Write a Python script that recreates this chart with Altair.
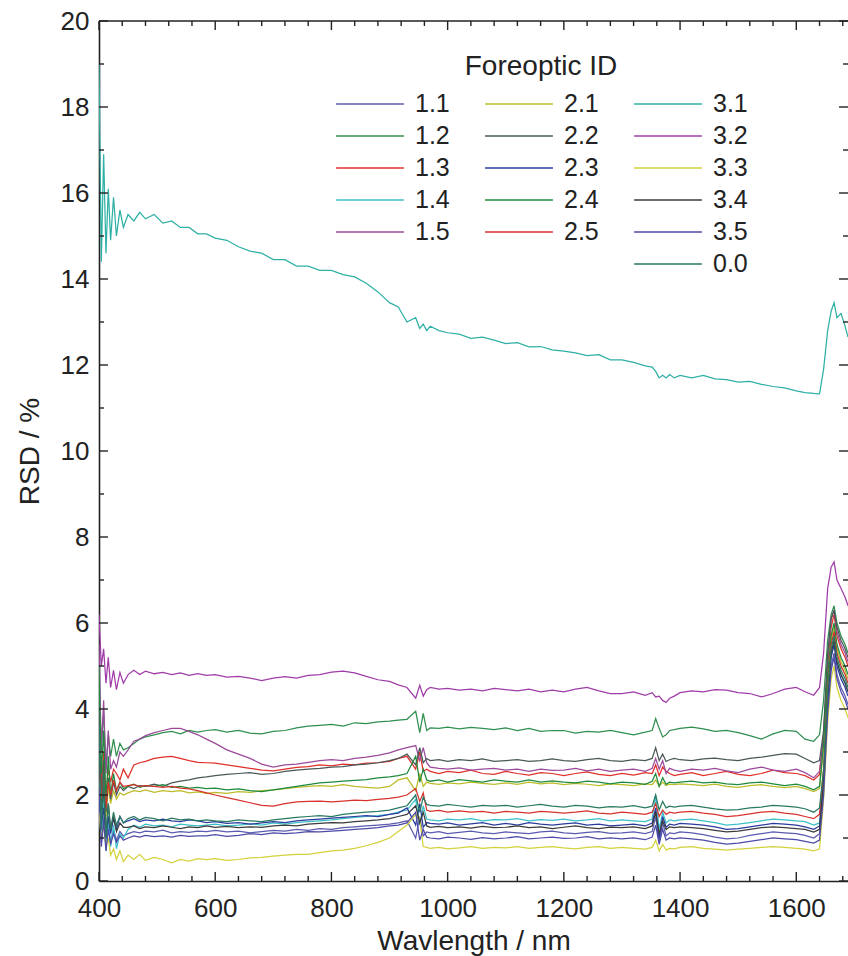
import altair as alt
import pandas as pd

# Wavelength sample points (nm)
wavelength = [400, 404, 408, 412, 416, 420, 425, 430, 436, 442,
              450, 460, 470, 480, 495, 510, 525, 540, 555, 570,
              585, 600, 620, 640, 660, 680, 700, 720, 740, 760,
              780, 800, 820, 840, 860, 880, 900, 915, 930, 945,
              952, 958, 964, 970, 985, 1000, 1020, 1040, 1060, 1080,
              1100, 1120, 1140, 1160, 1180, 1200, 1220, 1240, 1260, 1280,
              1300, 1320, 1340, 1352, 1358, 1364, 1370, 1376, 1382, 1390,
              1400, 1420, 1440, 1460, 1480, 1500, 1520, 1540, 1560, 1580,
              1600, 1615, 1630, 1640, 1647, 1654, 1660, 1665, 1670, 1677,
              1684, 1689]

rsd_3_1 = [19.0, 14.4, 16.9, 14.6, 16.1, 14.9, 15.9, 15.0, 15.6, 15.2,
           15.5, 15.35, 15.55, 15.4, 15.5, 15.3, 15.35, 15.2, 15.2, 15.05,
           15.05, 14.95, 14.9, 14.75, 14.65, 14.6, 14.45, 14.45, 14.3, 14.3,
           14.2, 14.2, 14.1, 14.05, 13.9, 13.7, 13.45, 13.35, 13.0, 13.1,
           12.85, 12.95, 12.8, 12.9, 12.8, 12.75, 12.72, 12.62, 12.65, 12.58,
           12.5, 12.52, 12.42, 12.43, 12.35, 12.32, 12.28, 12.22, 12.24, 12.12,
           12.12, 12.06, 11.98, 11.95, 11.85, 11.7, 11.76, 11.7, 11.78, 11.7,
           11.76, 11.7, 11.76, 11.68, 11.66, 11.6, 11.62, 11.55, 11.5, 11.47,
           11.4, 11.36, 11.34, 11.33, 11.9, 12.8, 13.25, 13.45, 13.1, 13.2,
           12.9, 12.65]
rsd_3_2 = [6.2, 5.0, 5.4, 4.6, 5.2, 4.5, 4.9, 4.45, 4.85, 4.6,
           4.8, 4.9, 4.8, 4.88, 4.82, 4.85, 4.8, 4.84, 4.78, 4.82,
           4.78, 4.8, 4.74, 4.76, 4.72, 4.66, 4.72, 4.75, 4.72, 4.78,
           4.8, 4.86, 4.88, 4.84, 4.76, 4.68, 4.64, 4.56, 4.5, 4.25,
           4.55, 4.3, 4.45, 4.5, 4.46, 4.48, 4.44, 4.46, 4.42, 4.48,
           4.45, 4.42, 4.46, 4.4, 4.44, 4.4, 4.46, 4.5, 4.42, 4.36,
           4.36, 4.4, 4.32, 4.38, 4.28, 4.3, 4.2, 4.15, 4.25, 4.3,
           4.38, 4.42, 4.4, 4.45, 4.44, 4.38, 4.36, 4.28, 4.36, 4.46,
           4.5, 4.4, 4.32, 4.5, 5.3, 6.8, 7.3, 7.42, 7.0, 6.8,
           6.6, 6.4]
rsd_1_2 = [4.5, 3.2, 3.9, 2.6, 3.4, 2.9, 3.3, 2.9, 3.2, 3.05,
           3.1, 3.2, 3.3, 3.35, 3.4, 3.45, 3.48, 3.42, 3.5, 3.46,
           3.5, 3.52, 3.46, 3.5, 3.44, 3.42, 3.48, 3.5, 3.56, 3.6,
           3.62, 3.64, 3.6, 3.68, 3.66, 3.7, 3.72, 3.74, 3.76, 3.95,
           3.45, 3.9, 3.5, 3.56, 3.55, 3.58, 3.54, 3.57, 3.55, 3.52,
           3.56, 3.5, 3.55, 3.48, 3.5, 3.5, 3.44, 3.48, 3.46, 3.5,
           3.45, 3.4, 3.46, 3.5, 3.78, 3.55, 3.35, 3.4, 3.5, 3.52,
           3.55, 3.58, 3.54, 3.48, 3.5, 3.45, 3.38, 3.3, 3.42, 3.5,
           3.48, 3.3, 3.25, 3.4, 4.2, 5.6, 6.2, 6.4, 6.0, 5.7,
           5.5, 5.3]
rsd_1_5 = [5.5, 3.0, 4.2, 2.5, 3.5, 2.6, 2.8, 2.65, 3.0, 2.9,
           3.05, 3.25, 3.3, 3.38, 3.45, 3.5, 3.55, 3.55, 3.48, 3.4,
           3.3, 3.2, 3.05, 2.95, 2.85, 2.72, 2.65, 2.7, 2.72, 2.76,
           2.8, 2.82, 2.8, 2.85, 2.88, 2.92, 2.98, 3.05, 3.1, 3.15,
           2.8, 3.1, 2.75, 2.65, 2.62, 2.6, 2.63, 2.58, 2.6, 2.62,
           2.58, 2.6, 2.55, 2.6, 2.57, 2.58, 2.62, 2.56, 2.6, 2.55,
           2.58, 2.6, 2.55, 2.62, 2.85, 2.6, 2.8, 2.5, 2.62, 2.58,
           2.55, 2.6, 2.58, 2.62, 2.56, 2.52, 2.6, 2.65, 2.58, 2.55,
           2.6, 2.52, 2.4, 2.55, 3.4, 5.2, 6.1, 6.3, 5.8, 5.5,
           5.3, 5.1]
rsd_1_3 = [3.5, 2.2, 3.0, 2.0, 2.6, 2.3, 2.6, 2.5, 2.35, 2.6,
           2.4, 2.7, 2.75, 2.78, 2.85, 2.88, 2.9, 2.85, 2.8, 2.76,
           2.75, 2.74, 2.7, 2.66, 2.62, 2.58, 2.56, 2.6, 2.64, 2.66,
           2.7, 2.68, 2.72, 2.7, 2.74, 2.75, 2.78, 2.85, 2.9, 2.6,
           3.0, 2.55, 2.6, 2.55, 2.5, 2.55, 2.52, 2.58, 2.5, 2.48,
           2.55, 2.5, 2.46, 2.52, 2.5, 2.45, 2.5, 2.54, 2.48, 2.45,
           2.5, 2.46, 2.52, 2.5, 2.7, 2.45, 2.65, 2.55, 2.5, 2.45,
           2.48, 2.52, 2.45, 2.5, 2.55, 2.48, 2.45, 2.5, 2.58, 2.52,
           2.5, 2.45, 2.35, 2.48, 3.4, 5.0, 5.9, 6.2, 5.7, 5.4,
           5.2, 5.0]
rsd_2_2 = [4.0, 1.8, 2.8, 1.6, 2.4, 1.9, 2.3, 2.0, 2.2, 2.1,
           2.2, 2.15, 2.22, 2.2, 2.25, 2.2, 2.28, 2.32, 2.35, 2.4,
           2.42, 2.45, 2.48, 2.5, 2.52, 2.48, 2.5, 2.55, 2.58, 2.6,
           2.62, 2.65, 2.66, 2.7, 2.72, 2.75, 2.8, 2.85, 2.95, 2.7,
           3.1, 2.75, 2.85, 2.8, 2.82, 2.78, 2.82, 2.8, 2.84, 2.78,
           2.8, 2.82, 2.78, 2.8, 2.84, 2.8, 2.78, 2.82, 2.85, 2.8,
           2.78, 2.82, 2.8, 2.85, 3.1, 2.8, 2.95, 2.78, 2.82, 2.85,
           2.82, 2.8, 2.84, 2.86, 2.82, 2.8, 2.85, 2.88, 2.92, 2.96,
           2.95, 2.85, 2.75, 2.8, 3.5, 5.3, 6.1, 6.3, 5.9, 5.6,
           5.4, 5.2]
rsd_2_4 = [5.0, 2.5, 3.5, 1.8, 2.9, 2.0, 2.5, 2.1, 2.3, 2.15,
           2.2, 2.25, 2.18, 2.22, 2.2, 2.24, 2.18, 2.2, 2.16, 2.18,
           2.15, 2.16, 2.12, 2.14, 2.1, 2.08, 2.12, 2.16, 2.2, 2.24,
           2.28, 2.3, 2.32, 2.34, 2.36, 2.4, 2.42, 2.45, 2.5, 2.9,
           2.3, 2.6, 2.35, 2.32, 2.35, 2.3, 2.36, 2.33, 2.3, 2.35,
           2.32, 2.3, 2.35, 2.3, 2.33, 2.3, 2.28, 2.32, 2.3, 2.26,
           2.3, 2.28, 2.25, 2.32, 2.5, 2.2, 2.4, 2.25, 2.3, 2.28,
           2.3, 2.32, 2.28, 2.3, 2.26, 2.24, 2.28, 2.3, 2.26, 2.22,
           2.25, 2.2, 2.12, 2.2, 3.2, 4.8, 5.7, 6.0, 5.5, 5.2,
           5.0, 4.8]
rsd_2_1 = [3.0, 1.6, 2.4, 1.5, 2.2, 1.8, 2.1, 1.9, 2.05, 2.0,
           2.05, 2.1, 2.08, 2.12, 2.06, 2.1, 2.08, 2.1, 2.05, 2.07,
           2.04, 2.06, 2.04, 2.08, 2.06, 2.1, 2.12, 2.15, 2.18, 2.2,
           2.22, 2.2, 2.24, 2.2, 2.18, 2.16, 2.2, 2.35, 2.4, 2.1,
           2.5, 2.2, 2.3, 2.27, 2.25, 2.28, 2.26, 2.3, 2.27, 2.25,
           2.28, 2.25, 2.3, 2.26, 2.28, 2.24, 2.27, 2.25, 2.22, 2.26,
           2.24, 2.22, 2.26, 2.24, 2.35, 2.2, 2.3, 2.22, 2.25, 2.24,
           2.26, 2.24, 2.22, 2.25, 2.2, 2.18, 2.22, 2.24, 2.2, 2.17,
           2.2, 2.15, 2.08, 2.15, 3.1, 4.7, 5.6, 5.9, 5.4, 5.1,
           4.9, 4.7]
rsd_2_5 = [2.8, 1.9, 2.4, 1.7, 2.3, 2.0, 2.35, 2.1, 2.3, 2.2,
           2.22, 2.24, 2.2, 2.22, 2.2, 2.18, 2.2, 2.16, 2.14, 2.1,
           2.05, 2.0, 1.94, 1.88, 1.82, 1.76, 1.74, 1.8, 1.84, 1.85,
           1.86, 1.84, 1.86, 1.88, 1.87, 1.9, 1.92, 1.95, 2.0, 2.15,
           1.85, 2.05, 1.65, 1.62, 1.64, 1.6, 1.63, 1.6, 1.62, 1.58,
           1.62, 1.6, 1.58, 1.62, 1.6, 1.58, 1.6, 1.63, 1.58, 1.56,
           1.6, 1.58, 1.55, 1.6, 1.8, 1.5, 1.65, 1.55, 1.6, 1.58,
           1.6, 1.62, 1.58, 1.55, 1.5, 1.52, 1.56, 1.6, 1.62, 1.58,
           1.55, 1.5, 1.45, 1.55, 2.6, 4.5, 5.5, 5.8, 5.3, 5.0,
           4.8, 4.6]
rsd_0_0 = [3.6, 1.2, 2.5, 1.0, 1.8, 1.2, 1.6, 1.3, 1.5, 1.35,
           1.45, 1.5, 1.42, 1.48, 1.45, 1.4, 1.46, 1.42, 1.44, 1.4,
           1.42, 1.4, 1.38, 1.42, 1.4, 1.38, 1.42, 1.45, 1.48, 1.5,
           1.52, 1.5, 1.55, 1.58, 1.6, 1.62, 1.65, 1.7, 1.75, 2.0,
           1.6, 1.95, 1.78, 1.76, 1.74, 1.78, 1.75, 1.72, 1.76, 1.74,
           1.76, 1.72, 1.75, 1.78, 1.74, 1.72, 1.76, 1.74, 1.7, 1.73,
           1.72, 1.75, 1.7, 1.74, 2.0, 1.65, 1.85, 1.7, 1.74, 1.72,
           1.74, 1.76, 1.72, 1.68, 1.65, 1.66, 1.7, 1.72, 1.76, 1.74,
           1.72, 1.68, 1.6, 1.7, 2.6, 4.4, 5.4, 5.7, 5.2, 4.9,
           4.7, 4.5]
rsd_1_4 = [2.5, 1.0, 1.9, 0.7, 1.5, 0.8, 1.3, 0.75, 1.1, 1.0,
           1.2, 1.3, 1.25, 1.32, 1.28, 1.3, 1.26, 1.32, 1.3, 1.28,
           1.3, 1.32, 1.28, 1.3, 1.33, 1.3, 1.35, 1.32, 1.36, 1.38,
           1.4, 1.42, 1.45, 1.48, 1.5, 1.52, 1.55, 1.6, 1.65, 1.9,
           1.3, 1.75, 1.44, 1.42, 1.4, 1.44, 1.42, 1.45, 1.4, 1.43,
           1.42, 1.45, 1.4, 1.43, 1.41, 1.44, 1.4, 1.42, 1.45, 1.4,
           1.42, 1.4, 1.38, 1.44, 2.0, 1.2, 1.6, 1.35, 1.42, 1.4,
           1.42, 1.44, 1.4, 1.36, 1.3, 1.32, 1.36, 1.4, 1.44, 1.42,
           1.4, 1.38, 1.3, 1.35, 2.4, 4.3, 5.3, 5.6, 5.1, 4.8,
           4.6, 4.4]
rsd_2_3 = [2.0, 1.3, 1.7, 1.0, 1.5, 1.1, 1.45, 1.2, 1.5, 1.35,
           1.4, 1.45, 1.38, 1.42, 1.4, 1.44, 1.4, 1.38, 1.42, 1.4,
           1.36, 1.38, 1.34, 1.36, 1.32, 1.35, 1.38, 1.36, 1.4, 1.42,
           1.44, 1.46, 1.48, 1.5, 1.52, 1.5, 1.55, 1.58, 1.7, 1.3,
           1.8, 1.25, 1.36, 1.34, 1.32, 1.35, 1.3, 1.33, 1.36, 1.3,
           1.34, 1.3, 1.36, 1.32, 1.3, 1.33, 1.35, 1.3, 1.32, 1.28,
           1.3, 1.32, 1.28, 1.35, 1.7, 1.0, 1.5, 1.25, 1.32, 1.3,
           1.34, 1.32, 1.3, 1.26, 1.2, 1.22, 1.26, 1.3, 1.34, 1.32,
           1.3, 1.26, 1.2, 1.28, 2.3, 4.2, 5.2, 5.5, 5.0, 4.7,
           4.5, 4.3]
rsd_3_4 = [3.2, 1.4, 2.2, 1.1, 1.8, 1.2, 1.5, 1.15, 1.35, 1.25,
           1.25, 1.28, 1.22, 1.26, 1.24, 1.28, 1.25, 1.22, 1.26, 1.24,
           1.28, 1.25, 1.27, 1.24, 1.26, 1.25, 1.28, 1.3, 1.28, 1.32,
           1.34, 1.36, 1.35, 1.38, 1.4, 1.42, 1.45, 1.5, 1.55, 1.75,
           1.35, 1.6, 1.28, 1.25, 1.27, 1.24, 1.26, 1.23, 1.27, 1.24,
           1.25, 1.28, 1.24, 1.26, 1.22, 1.25, 1.28, 1.24, 1.22, 1.25,
           1.24, 1.26, 1.22, 1.28, 1.6, 1.1, 1.4, 1.2, 1.26, 1.24,
           1.26, 1.24, 1.22, 1.18, 1.14, 1.16, 1.2, 1.24, 1.26, 1.24,
           1.22, 1.2, 1.14, 1.2, 2.3, 4.3, 5.3, 5.6, 5.1, 4.8,
           4.6, 4.4]
rsd_1_1 = [1.8, 0.9, 1.5, 0.8, 1.3, 0.9, 1.2, 0.95, 1.15, 1.05,
           1.1, 1.15, 1.12, 1.16, 1.14, 1.18, 1.12, 1.15, 1.13, 1.16,
           1.15, 1.18, 1.14, 1.16, 1.12, 1.15, 1.18, 1.16, 1.2, 1.18,
           1.22, 1.2, 1.24, 1.26, 1.28, 1.3, 1.32, 1.35, 1.4, 1.0,
           1.5, 1.05, 1.14, 1.12, 1.15, 1.1, 1.13, 1.16, 1.12, 1.1,
           1.14, 1.12, 1.1, 1.14, 1.16, 1.12, 1.1, 1.13, 1.15, 1.11,
           1.12, 1.14, 1.1, 1.15, 1.5, 0.9, 1.35, 1.05, 1.12, 1.1,
           1.14, 1.12, 1.08, 1.02, 0.98, 1.0, 1.06, 1.1, 1.14, 1.12,
           1.1, 1.06, 1.0, 1.1, 2.1, 4.0, 5.0, 5.3, 4.8, 4.5,
           4.3, 4.1]
rsd_3_5 = [2.2, 0.8, 1.4, 0.7, 1.2, 0.85, 1.1, 0.9, 1.05, 0.95,
           1.0, 1.05, 1.02, 1.06, 1.03, 1.05, 1.02, 1.06, 1.04, 1.05,
           1.05, 1.08, 1.04, 1.06, 1.1, 1.08, 1.12, 1.1, 1.12, 1.15,
           1.14, 1.16, 1.18, 1.2, 1.22, 1.24, 1.28, 1.3, 1.35, 1.6,
           0.95, 1.2, 1.02, 1.0, 0.98, 1.02, 1.0, 0.97, 1.01, 0.98,
           1.0, 1.03, 0.98, 1.0, 1.02, 0.99, 1.0, 1.03, 0.98, 1.0,
           0.98, 1.0, 0.96, 1.02, 1.3, 0.85, 1.2, 0.95, 1.0, 0.98,
           1.0, 0.98, 0.95, 0.9, 0.86, 0.88, 0.92, 0.96, 1.0, 0.98,
           0.96, 0.92, 0.88, 0.95, 2.0, 3.9, 4.9, 5.2, 4.7, 4.4,
           4.2, 4.0]
rsd_3_3 = [1.6, 1.0, 1.3, 0.8, 1.0, 0.6, 0.75, 0.5, 0.7, 0.45,
           0.6, 0.5, 0.62, 0.48, 0.55, 0.5, 0.42, 0.5, 0.46, 0.52,
           0.5, 0.52, 0.48, 0.5, 0.54, 0.55, 0.58, 0.6, 0.62, 0.62,
           0.66, 0.7, 0.72, 0.76, 0.82, 0.9, 1.0, 1.15, 1.3, 1.55,
           1.45, 0.8, 0.78, 0.76, 0.78, 0.75, 0.77, 0.8, 0.76, 0.78,
           0.77, 0.8, 0.76, 0.78, 0.8, 0.77, 0.75, 0.78, 0.8, 0.76,
           0.78, 0.76, 0.74, 0.78, 0.95, 0.7, 0.85, 0.72, 0.76, 0.75,
           0.78, 0.8, 0.76, 0.74, 0.72, 0.74, 0.76, 0.78, 0.8, 0.78,
           0.76, 0.74, 0.7, 0.75, 1.9, 3.7, 4.7, 5.0, 4.5, 4.2,
           4.0, 3.8]

series = {
    "1.1": rsd_1_1, "1.2": rsd_1_2, "1.3": rsd_1_3, "1.4": rsd_1_4, "1.5": rsd_1_5,
    "2.1": rsd_2_1, "2.2": rsd_2_2, "2.3": rsd_2_3, "2.4": rsd_2_4, "2.5": rsd_2_5,
    "3.1": rsd_3_1, "3.2": rsd_3_2, "3.3": rsd_3_3, "3.4": rsd_3_4, "3.5": rsd_3_5,
    "0.0": rsd_0_0,
}

# Legend entries fill column by column (6 rows x 3 columns); blank slots keep 0.0 in column 3
legend_ids = ["1.1", "1.2", "1.3", "1.4", "1.5", " ",
              "2.1", "2.2", "2.3", "2.4", "2.5", "  ",
              "3.1", "3.2", "3.3", "3.4", "3.5", "0.0"]
legend_colors = ["#5b5bb0", "#2f8f4f", "#e0302a", "#3cc0c8", "#9b4a9b", "#ffffff",
                 "#bcbc2a", "#4a5858", "#2a3c9c", "#1e8a3e", "#d8322e", "#ffffff",
                 "#2fb0a6", "#a03ca8", "#d4d23c", "#3c3c3c", "#4e4aa8", "#2a7a62"]

x_major = [400, 600, 800, 1000, 1200, 1400, 1600]
x_minor = [v for v in range(440, 1689, 40) if v % 200 != 0]
y_major = [0, 2, 4, 6, 8, 10, 12, 14, 16, 18, 20]
y_minor = [1, 3, 5, 7, 9, 11, 13, 15, 17, 19]

rows = []
for sid, vals in series.items():
    assert len(vals) == len(wavelength), sid
    for w, v in zip(wavelength, vals):
        rows.append({"wl": w, "rsd": v, "id": sid})
df = pd.DataFrame(rows)

W, H = 749, 860
FONT = "Liberation Sans"
INK = "#222222"
xscale = alt.Scale(domain=[400, 1689], nice=False, zero=False)
yscale = alt.Scale(domain=[0, 20], nice=False, zero=True)

x_axis = alt.Axis(title="Wavlength / nm", values=x_major, format="d",
                  ticks=False, grid=False, domainColor=INK, domainWidth=1.6,
                  labelFontSize=26, labelPadding=14, labelColor=INK,
                  labelFont=FONT, titleFont=FONT, titleFontSize=28,
                  titleFontWeight="normal", titleColor=INK, titlePadding=6,
                  labelFlush=False, labelOverlap=False)
y_axis = alt.Axis(title="RSD / %", values=y_major, format="d",
                  ticks=False, grid=False, domainColor=INK, domainWidth=1.6,
                  labelFontSize=26, labelPadding=10, labelColor=INK,
                  labelFont=FONT, titleFont=FONT, titleFontSize=28,
                  titleFontWeight="normal", titleColor=INK, titlePadding=16,
                  labelFlush=False, labelOverlap=False)

lines = alt.Chart(df).mark_line(strokeWidth=1.25, clip=True).encode(
    x=alt.X("wl:Q", scale=xscale, axis=x_axis),
    y=alt.Y("rsd:Q", scale=yscale, axis=y_axis),
    color=alt.Color("id:N",
                    scale=alt.Scale(domain=legend_ids, range=legend_colors),
                    legend=alt.Legend(title="Foreoptic ID", orient="none",
                                      legendX=236, legendY=32, columns=3,
                                      symbolType="stroke", symbolSize=4600,
                                      symbolStrokeWidth=1.5, clipHeight=26,
                                      rowPadding=6, columnPadding=34, labelOffset=10,
                                      labelFontSize=25, labelFont=FONT, labelColor=INK,
                                      titleFontSize=28, titleFont=FONT, titleColor=INK,
                                      titleFontWeight="normal", titleAnchor="middle",
                                      titlePadding=10, padding=0)),
)

def xticks(vals, length, top):
    d = pd.DataFrame({"wl": vals})
    y0 = 0 if top else H
    y1 = length if top else H - length
    return alt.Chart(d).mark_rule(color=INK, strokeWidth=1.4).encode(
        x=alt.X("wl:Q", scale=xscale, axis=x_axis),
        y=alt.value(y0), y2=alt.value(y1))

def yticks(vals, length, right):
    d = pd.DataFrame({"rsd": vals})
    x0 = W if right else 0
    x1 = W - length if right else length
    return alt.Chart(d).mark_rule(color=INK, strokeWidth=1.4).encode(
        y=alt.Y("rsd:Q", scale=yscale, axis=y_axis),
        x=alt.value(x0), x2=alt.value(x1))

top_line = alt.Chart(pd.DataFrame({"a": [0]})).mark_rule(color=INK, strokeWidth=1.6).encode(
    x=alt.value(0), x2=alt.value(W), y=alt.value(0))

chart = alt.layer(
    lines,
    xticks(x_major, 9, False), xticks(x_minor, 5, False),
    xticks(x_major, 9, True), xticks(x_minor, 5, True),
    yticks(y_major, 9, False), yticks(y_minor, 5, False),
    yticks(y_major, 9, True), yticks(y_minor, 5, True),
    top_line,
).properties(
    width=W, height=H,
    padding={"left": 99, "top": 21, "right": 0, "bottom": 75},
    autosize=alt.AutoSizeParams(type="none"),
    background="white",
).configure_view(stroke=None)

chart.save("out.html", embed_options={"renderer": "svg", "actions": False})
